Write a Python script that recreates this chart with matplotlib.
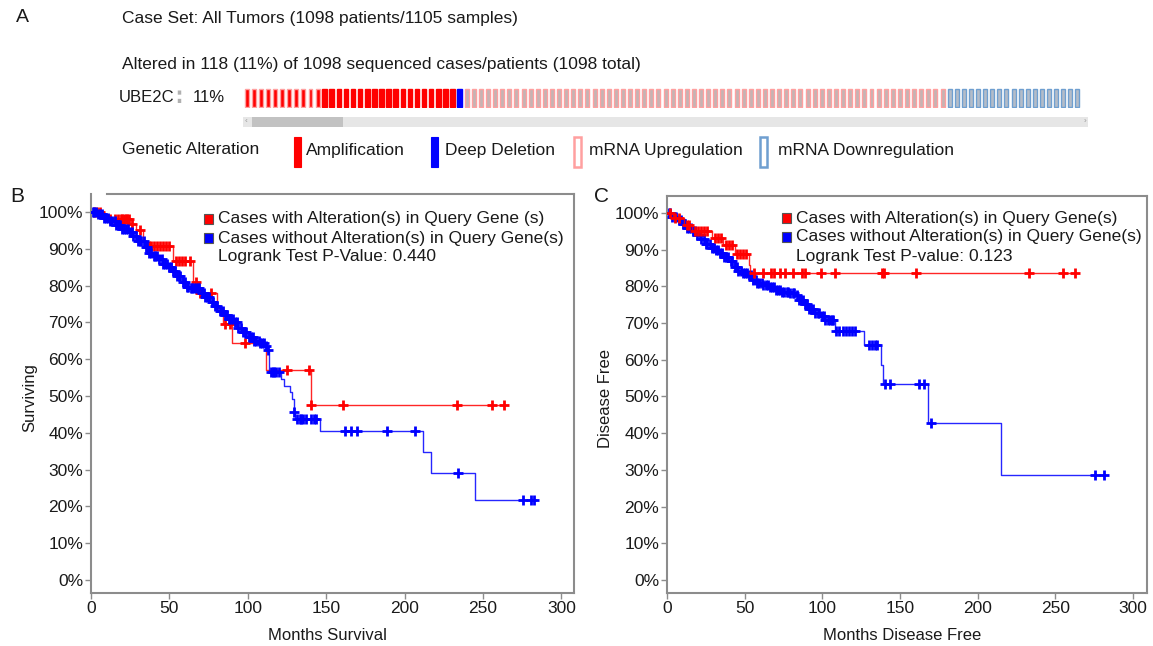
import numpy as np
import matplotlib
matplotlib.use('Agg')
import matplotlib.pyplot as plt
from matplotlib.patches import Rectangle

plt.rcParams['font.family'] = ['Liberation Sans', 'DejaVu Sans']

W, H = 1153, 646

# ---------------- data ----------------
# Oncoprint: one entry per altered sample (118 altered cases)
onc_counts = {'amp_up': 11, 'amp': 19, 'del': 1, 'up': 68, 'down': 19}
legend_items = ['Amplification', 'Deep Deletion', 'mRNA Upregulation', 'mRNA Downregulation']

# Panel B: overall survival (Kaplan-Meier steps)
b_alt_t = [0, 8, 26, 29, 33, 36, 52, 65, 68.6, 80.6, 84, 90, 111.6, 140]
b_alt_s = [1.0, 0.982, 0.968, 0.952, 0.92, 0.907, 0.866, 0.81, 0.781, 0.74, 0.695, 0.643, 0.57, 0.475]
b_alt_cens = [2, 4, 6, 12, 15, 17, 19, 20, 21, 22, 23, 24, 26, 31.5, 37, 38.5, 40, 42, 44, 46, 48, 50,
              54, 56, 58, 60, 63, 67, 69.5, 76.3, 85.4, 88.8, 98.4, 124.9, 139, 140.5, 160.5, 233.3,
              255.5, 263.4]
b_alt_end = 263.4

b_unalt_t = [0, 4, 8, 12, 16, 20, 24, 27, 30, 34, 37, 40, 43, 46, 49, 52, 55, 58, 61, 63,
             70, 73, 76, 79, 82, 85, 88, 91, 94, 97, 100, 104, 108, 111, 112.5, 113.5, 121, 123,
             126.8, 128, 129.2, 130.4, 146, 212, 216.5, 245]
b_unalt_s = [1.0, 0.995, 0.985, 0.975, 0.965, 0.955, 0.945, 0.935, 0.92, 0.905, 0.89, 0.88, 0.872,
             0.86, 0.85, 0.84, 0.825, 0.81, 0.795, 0.794, 0.781, 0.77, 0.755, 0.745, 0.73, 0.72,
             0.71, 0.70, 0.685, 0.675, 0.66, 0.65, 0.645, 0.636, 0.624, 0.564, 0.546, 0.528,
             0.51, 0.492, 0.456, 0.438, 0.406, 0.349, 0.29, 0.217]
b_unalt_cens = [1, 2, 3, 4.5, 5.5, 7, 8, 9.5, 11, 12, 13.5, 15, 16, 17, 18.5, 20, 21, 22, 23.5, 25,
                26, 27, 28.5, 30, 31, 32, 33.5, 35, 36, 37, 38.5, 40, 41, 42, 43.5, 45, 46, 47,
                48.5, 50, 51, 52, 53.5, 55, 56, 57, 58.5, 60, 61, 62, 63.5, 64.5, 65.5, 67, 68,
                69, 70.5, 72, 73, 74, 75.5, 77, 78, 79, 80.5, 82, 83, 84, 85.5, 87, 88, 89, 90.5,
                92, 93, 94, 95.5, 97, 98, 99, 100.5, 102, 103, 104, 105.5, 107, 108, 109, 110,
                111.5, 113, 114.5, 116, 117, 118, 120, 129.5, 131.5, 133, 134, 135, 137, 140,
                142, 143.5, 161.7, 165.7, 169.6, 188.6, 206.6, 233.8, 275.4, 280.3, 282.4]
b_unalt_end = 282.4

# Panel C: disease free survival
c_alt_t = [0, 4, 11, 16, 29, 36, 44, 52.8, 53.3]
c_alt_s = [1.0, 0.986, 0.966, 0.95, 0.932, 0.912, 0.889, 0.857, 0.836]
c_alt_cens = [2, 5, 8, 13, 14, 18, 20, 22, 24, 26, 31, 33, 35, 38, 40, 42, 45, 47, 49, 51, 56.1, 62,
              66.7, 69, 72.6, 76.1, 80.8, 86.7, 89.1, 99, 108, 138.6, 139.8, 160.5, 232.9, 254.8,
              262.8]
c_alt_end = 262.8

c_unalt_t = [0, 3, 7, 10, 13, 16, 19, 22, 25, 28, 31, 34, 37, 40, 43, 46, 49, 52.5, 55, 58,
             62, 66, 70, 74, 79, 83, 85, 88, 91, 95, 98.5, 102, 108.4, 126.8, 137.9, 139, 168, 214.7]
c_unalt_s = [1.0, 0.99, 0.98, 0.97, 0.96, 0.95, 0.94, 0.928, 0.915, 0.905, 0.9, 0.89, 0.88, 0.868,
             0.853, 0.843, 0.835, 0.83, 0.818, 0.81, 0.803, 0.797, 0.79, 0.785, 0.781, 0.776,
             0.763, 0.752, 0.738, 0.727, 0.718, 0.708, 0.679, 0.641, 0.587, 0.533, 0.428, 0.287]
c_unalt_cens = [1, 2, 3.5, 5, 6, 7.5, 9, 10, 11.5, 13, 14, 15.5, 17, 18, 19.5, 21, 22, 23.5, 25, 26,
                27.5, 29, 30, 31.5, 33, 34, 35.5, 37, 38, 39.5, 41, 42, 43.5, 45, 46, 47.5, 49, 50,
                51.5, 53, 54, 55.5, 57, 58, 59.5, 61, 62, 63.5, 65, 66, 67.5, 69, 70, 71.5, 73, 74,
                75.5, 77, 78, 79.5, 81, 82, 83.5, 85, 86, 87.5, 89, 90, 91.5, 93, 94, 95.5, 97, 98,
                99.5, 101, 102, 103.5, 105, 106, 107, 109, 111, 113, 115, 117, 119, 121, 130, 132,
                134, 135.5, 140.5, 143.3, 162, 165.7, 169.7, 275.3, 281.2]
c_unalt_end = 281.2

y_ticks = [0, 0.1, 0.2, 0.3, 0.4, 0.5, 0.6, 0.7, 0.8, 0.9, 1.0]
x_ticks = [0, 50, 100, 150, 200, 250, 300]

RED = '#ff0000'
BLUE = '#0000ff'
TXT = '#1a1a1a'
SPINE = '#8c8c8c'
FS_A = 12.5

fig = plt.figure(figsize=(W / 100, H / 100), dpi=100)
ov = fig.add_axes([0, 0, 1, 1])
ov.set_xlim(0, W)
ov.set_ylim(H, 0)
ov.axis('off')

# ---------------- Panel A ----------------
ov.text(16, 18, 'A', fontsize=14, color=TXT, va='center')
ov.text(122, 18, 'Case Set: All Tumors (1098 patients/1105 samples)', fontsize=FS_A, color=TXT, va='center')
ov.text(122, 64, 'Altered in 118 (11%) of 1098 sequenced cases/patients (1098 total)', fontsize=FS_A,
        color=TXT, va='center')
ov.text(119, 97, 'UBE2C', fontsize=12, color=TXT, va='center')
ov.plot([179, 179], [90, 105], ls=(0, (1.2, 1.2)), color='#b0b0b0', lw=2.5)
ov.text(193, 97, '11%', fontsize=12, color=TXT, va='center')

# oncoprint track
onc = fig.add_axes([243 / W, 1 - 108 / H, (1081 - 243) / W, 20 / H])
types = []
for k, n in onc_counts.items():
    types += [k] * n
onc.set_xlim(-0.5, len(types) - 0.5)
onc.set_ylim(0, 1)
onc.axis('off')
PINK = '#ffa0a0'
LBLUE = '#6f9fd0'
GREY = '#c4b4b4'
GREY2 = '#b4bcc8'
style = {
    'amp_up': dict(fc=RED, ec=PINK, w=0.55),
    'amp': dict(fc=RED, ec=RED, w=0.64),
    'del': dict(fc=BLUE, ec=BLUE, w=0.64),
    'up': dict(fc=GREY, ec=PINK, w=0.56),
    'down': dict(fc=GREY2, ec=LBLUE, w=0.56),
}
for k in onc_counts:
    sel = [i for i, t in enumerate(types) if t == k]
    st = style[k]
    onc.bar(sel, 0.9, bottom=0.05, width=st['w'], color=st['fc'], edgecolor=st['ec'], linewidth=1.0)

# scroll bar
ov.add_patch(Rectangle((243, 117), 845, 10, fc='#e6e6e6', ec='none'))
ov.add_patch(Rectangle((252, 117), 91, 10, fc='#c2c2c2', ec='none'))
ov.text(246, 122, '‹', fontsize=6, color='#999999', va='center', ha='center')
ov.text(1085, 122, '›', fontsize=6, color='#999999', va='center', ha='center')

# legend A
ov.text(122, 150, 'Genetic Alteration', fontsize=FS_A, color=TXT, va='center')
ov.add_patch(Rectangle((294, 137), 7, 30, fc=RED, ec=RED, lw=0.8))
ov.text(306, 151, legend_items[0], fontsize=FS_A, color=TXT, va='center')
ov.add_patch(Rectangle((431, 137), 7, 30, fc=BLUE, ec=BLUE, lw=0.8))
ov.text(445, 151, legend_items[1], fontsize=FS_A, color=TXT, va='center')
ov.add_patch(Rectangle((574, 137), 7, 30, fc='white', ec=PINK, lw=1.8))
ov.text(589, 151, legend_items[2], fontsize=FS_A, color=TXT, va='center')
ov.add_patch(Rectangle((760, 137), 7, 30, fc='white', ec=LBLUE, lw=1.8))
ov.text(778, 151, legend_items[3], fontsize=FS_A, color=TXT, va='center')


# ---------------- KM panels ----------------
def km(ax, t, s, cens, t_end, color, z):
    t = np.asarray(t, float)
    s = np.asarray(s, float)
    tt = np.append(t, t_end)
    ss = np.append(s, s[-1])
    ax.step(tt, ss, where='post', color=color, lw=1.0, alpha=0.85, zorder=z)
    c = np.asarray(cens, float)
    ci = np.searchsorted(t, c, side='right') - 1
    ax.plot(c, s[ci], ls='none', marker='+', ms=6.5, mew=2.0, color=color, zorder=z + 0.5)


def style_ax(ax, xmax, xlabel, ylabel):
    ax.set_xlim(0, xmax)
    ax.set_ylim(-0.0353, 1.049)
    ax.set_xticks(x_ticks)
    ax.set_xticklabels([str(v) for v in x_ticks])
    ax.set_yticks(y_ticks)
    ax.set_yticklabels([f'{int(round(v * 100))}%' for v in y_ticks])
    for sp in ax.spines.values():
        sp.set_color(SPINE)
        sp.set_linewidth(1.5)
    ax.tick_params(axis='both', direction='out', length=4, width=1, color=SPINE,
                   labelsize=12.5, labelcolor=TXT, pad=1.5)
    ax.set_xlabel(xlabel, fontsize=12, color=TXT)
    ax.set_ylabel(ylabel, fontsize=12, color=TXT)
    ax.xaxis.set_label_coords(0.49, -0.088)
    ax.yaxis.set_label_coords(-0.112, 0.49)


axB = fig.add_axes([91 / W, 53 / H, (574 - 91) / W, (593 - 194) / H])
style_ax(axB, 308, 'Months Survival', 'Surviving')
axB.spines['top'].set_bounds(10, 308)
km(axB, b_unalt_t, b_unalt_s, b_unalt_cens, b_unalt_end, BLUE, 3)
km(axB, b_alt_t, b_alt_s, b_alt_cens, b_alt_end, RED, 2)

axC = fig.add_axes([667 / W, 53 / H, (1147 - 667) / W, (593 - 196) / H])
style_ax(axC, 309, 'Months Disease Free', 'Disease Free')
axC.set_ylim(-0.0353, 1.046)
km(axC, c_unalt_t, c_unalt_s, c_unalt_cens, c_unalt_end, BLUE, 3)
km(axC, c_alt_t, c_alt_s, c_alt_cens, c_alt_end, RED, 4)

ov.text(10, 197, 'B', fontsize=15, color=TXT, va='center')
ov.text(594, 197, 'C', fontsize=15, color=TXT, va='center')


def km_legend(x0, y1, y2, y3, l1, l2, l3):
    ov.add_patch(Rectangle((x0, y1 - 5), 9, 10, fc=RED, ec='#555555', lw=0.8, zorder=10))
    ov.add_patch(Rectangle((x0, y2 - 5), 9, 10, fc=BLUE, ec='#555555', lw=0.8, zorder=10))
    ov.text(x0 + 14, y1, l1, fontsize=12.5, color=TXT, va='center', zorder=10)
    ov.text(x0 + 14, y2, l2, fontsize=12.5, color=TXT, va='center', zorder=10)
    ov.text(x0 + 14, y3, l3, fontsize=12.5, color=TXT, va='center', zorder=10)


ov.set_zorder(5)
km_legend(204, 219, 238, 257, 'Cases with Alteration(s) in Query Gene (s)',
          'Cases without Alteration(s) in Query Gene(s)', 'Logrank Test P-Value: 0.440')
km_legend(782, 218, 237, 256, 'Cases with Alteration(s) in Query Gene(s)',
          'Cases without Alteration(s) in Query Gene(s)', 'Logrank Test P-value: 0.123')

fig.savefig('out.png', dpi=100)
